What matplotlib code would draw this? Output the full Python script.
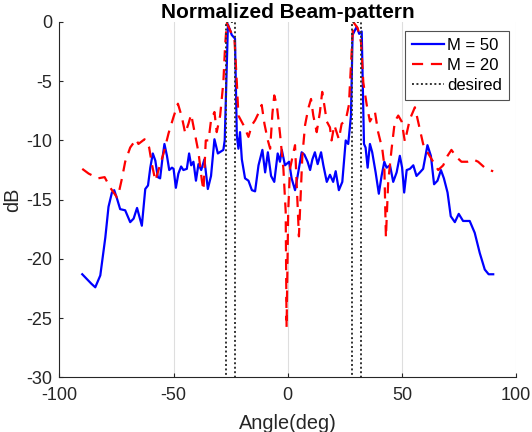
import matplotlib
matplotlib.use("Agg")
import matplotlib.pyplot as plt

plt.rcParams["font.family"] = ["Liberation Sans", "DejaVu Sans"]
plt.rcParams["axes.unicode_minus"] = False

# M = 50 beam pattern (angle in deg, level in dB)
ang50 = [-90, -88, -86, -84.3, -82.1, -79.9, -78.5, -77, -76, -74.8, -73.4, -71.2, -69, -67.5, -66,
         -65, -63.9, -62.4, -61.2, -60.2, -59.1, -58, -56.9, -55.9, -54.8, -54, -52.9, -51.9, -50.7,
         -50, -49, -47.9, -46.7, -45.7, -44.2, -43.2, -42.3, -41.3, -40.2, -39.1, -37.9, -36.5, -35,
         -33.6, -32.1, -30.6, -28.2, -27.6, -26.2, -24.5, -23.1, -22.3, -21.6, -20.9, -20.1, -18.7,
         -17.2, -15.7, -14.3, -12.8, -11.1, -9.9, -8.7, -7.3, -5.9, -4.4, -3.4, -2.6, -1.2, 0.6, 1.7,
         3.2, 4.6, 6.1, 7.3, 8.7, 9.8, 10.8, 11.9, 13.1, 14.6, 15.6, 17.1, 18.5, 19.9, 21, 22.4, 23.9,
         25.4, 26.5, 27.7, 28.4, 30.2, 31.3, 32.4, 33.4, 34.1, 35, 36, 37, 38.5, 39.9, 41.1, 42.3,
         43.3, 44.8, 46.2, 47.7, 49.1, 50.1, 51, 52.1, 53.5, 55, 56.4, 57.9, 59.3, 61.2, 62.7, 64.1,
         65.6, 67.1, 68.4, 70, 71.4, 73.2, 74.9, 76.8, 79.7, 81.9, 84.1, 86.3, 88, 90]
db50 = [-21.3, -21.7, -22.1, -22.4, -21.4, -18.2, -15.6, -14.4, -14.2, -14.9, -15.8, -15.9, -16.9,
        -16.6, -15.7, -16.4, -17.2, -14.1, -13.8, -12.3, -11.1, -11.7, -13.1, -13.2, -11.4, -10.3,
        -11.3, -12.5, -12.3, -12.4, -14.0, -12.8, -12.2, -12.5, -12.4, -11.1, -12.1, -11.8, -13.4,
        -12.0, -12.5, -11.6, -14.1, -13.0, -9.9, -11.1, -10.8, -10.0, -0.2, -1.1, -1.4, -9.6,
        -10.7, -9.3, -11.6, -13.2, -13.4, -14.2, -14.3, -12.1, -10.8, -12.7, -11.0, -13.0, -13.5,
        -11.1, -11.8, -10.8, -12.1, -11.8, -13.2, -14.2, -12.7, -11.0, -11.2, -11.8, -12.5, -11.6,
        -11.0, -12.0, -11.0, -12.1, -13.5, -12.9, -13.5, -12.6, -14.2, -13.5, -10.0, -10.3, -7.9,
        -1.1, -0.4, -1.0, -0.8, -10.3, -10.6, -12.3, -10.3, -11.0, -12.7, -14.5, -13.0, -11.8,
        -12.3, -12.1, -13.5, -12.7, -11.3, -12.3, -14.4, -12.5, -12.4, -12.1, -13.0, -12.7, -12.4,
        -10.4, -11.3, -13.7, -13.4, -12.5, -13.2, -14.4, -16.4, -16.9, -16.2, -16.8, -16.8, -17.8,
        -19.5, -20.9, -21.3, -21.3]

# M = 20 beam pattern
ang20 = [-90, -87.2, -83.1, -80.2, -77.7, -74.8, -74.1, -72.6, -71.2, -69, -66.4, -65.4, -62.7,
         -60.7, -59.5, -58, -56.6, -54.4, -52.2, -50, -48.1, -46.4, -44.9, -43.5, -42.3, -40.9,
         -39.1, -37.6, -36.9, -35.9, -34.7, -33.6, -32.1, -31.1, -29.6, -28.2, -27.4, -26.7, -24.5,
         -23.3, -22.3, -21.6, -19.4, -17.2, -15.7, -14.3, -12.8, -11.4, -10.2, -8.7, -7.7, -6.7,
         -5.9, -4.8, -3.4, -1.9, -0.9, -0.5, 0.2, 1, 2.5, 3.2, 4.9, 6.4, 7.6, 9, 10.2, 11.2, 12.7,
         14.1, 15.1, 16, 17.1, 18.5, 19.2, 20.4, 22.4, 23.6, 25.4, 26.8, 27.7, 28.7, 30.6, 32.1,
         33.1, 34.6, 36, 38.2, 39.6, 41.4, 42.3, 43, 44, 45.5, 46.9, 48.4, 49.9, 51.3, 53.5, 55.7,
         57.1, 59.3, 61.5, 63.7, 65.9, 68.1, 70, 71.7, 73.9, 76.1, 78.7, 81.2, 83.4, 86.3, 88.1, 90]
db20 = [-12.4, -12.8, -13.2, -13.1, -14.0, -14.8, -14.5, -13.2, -11.8, -10.6, -9.9, -10.3, -9.9,
        -10.6, -12.0, -13.4, -12.5, -11.1, -9.4, -8.0, -6.9, -8.0, -9.4, -8.6, -7.8, -9.2, -11.0,
        -13.4, -14.2, -10.0, -10.0, -8.3, -7.6, -9.3, -7.9, -5.1, -1.9, -0.1, -1.0, -1.6, -5.1,
        -7.9, -8.7, -9.7, -8.7, -8.3, -7.7, -7.0, -8.6, -10.0, -10.7, -7.7, -6.2, -7.0, -9.4,
        -12.4, -16.0, -25.8, -16.0, -12.4, -11.0, -10.4, -18.1, -11.3, -8.7, -7.3, -6.5, -7.9,
        -9.3, -7.6, -5.9, -7.0, -8.4, -8.9, -10.0, -8.7, -9.9, -8.6, -8.3, -7.0, -3.6, 0.0, -0.5,
        -1.7, -5.1, -7.0, -8.4, -7.6, -9.3, -10.7, -12.1, -18.2, -13.5, -10.7, -8.4, -7.9, -8.4,
        -10.1, -8.2, -7.2, -8.4, -10.3, -11.1, -11.8, -12.5, -12.1, -11.3, -10.8, -11.4, -11.8,
        -11.8, -11.6, -11.8, -12.3, -12.5, -12.6]

# desired pattern: 0 dB inside the two target sectors, -inf outside
des_ang = [-90, -27, -27, -23, -23, 28, 28, 32, 32, 90]
des_db = [-100, -100, 0, 0, -100, -100, 0, 0, -100, -100]

fig = plt.figure(figsize=(5.32, 4.32), dpi=100)
ax = fig.add_axes([0.1117, 0.1266, 0.8583, 0.8225])
ax.plot(ang50, db50, color="#0000ff", lw=1.6, label="M = 50")
ax.plot(ang20, db20, color="#ff0000", lw=1.6, ls=(0, (5, 3.5)), label="M = 20")
ax.plot(des_ang, des_db, color="#333333", lw=1.4, ls=(0, (1, 1.3)), label="desired")

ax.set_xlim(-100, 100); ax.set_ylim(-30, 0)
ax.set_xticks([-100, -50, 0, 50, 100]); ax.set_yticks([-30, -25, -20, -15, -10, -5, 0])
ax.grid(axis="x", color="#dedede", lw=0.8); ax.set_axisbelow(True)
for s in ("top", "right"): ax.spines[s].set_visible(False)
for s in ("left", "bottom"): ax.spines[s].set_color("#262626"); ax.spines[s].set_linewidth(0.8)
ax.tick_params(direction="in", length=3, width=0.8, colors="#262626", labelsize=13, labelcolor="#262626")
ax.tick_params(axis="x", pad=7)
ax.tick_params(axis="y", pad=5)
ax.set_xlabel("Angle(deg)", fontsize=14.3, color="#262626", labelpad=7)
ax.set_ylabel("dB", fontsize=14.3, color="#262626", labelpad=3)
ax.set_title("Normalized Beam-pattern", fontsize=15, fontweight="bold", pad=3)
leg = ax.legend(loc="upper right", bbox_to_anchor=(0.984, 0.975), fontsize=12, frameon=True, fancybox=False,
                handlelength=1.9, handletextpad=0.2, borderpad=0.42, labelspacing=0.3, borderaxespad=0)
leg.get_frame().set_edgecolor("#262626"); leg.get_frame().set_linewidth(0.8)
fig.savefig("out.png", dpi=100)
